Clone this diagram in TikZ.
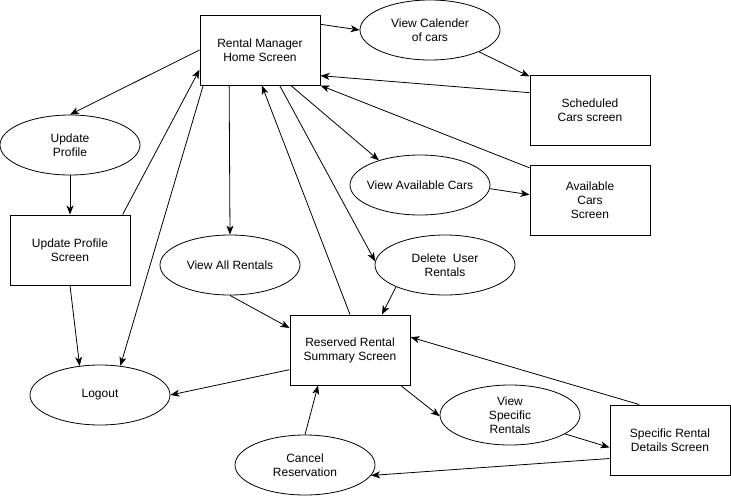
\documentclass[tikz,border=0pt]{standalone}
\usepackage{fontspec}
\setmainfont{Liberation Sans}
\usetikzlibrary{shapes.geometric, arrows.meta}

\begin{document}
\begin{tikzpicture}[x=1pt, y=-1pt,
  every node/.style={font=\fontsize{12}{14}\selectfont, align=center},
  screen/.style={draw, line width=1pt, minimum width=120pt, minimum height=70pt, inner sep=0pt},
  usecase/.style={draw, ellipse, line width=0.8pt, minimum width=140pt, minimum height=60pt, inner xsep=-8pt, inner ysep=0pt},
  link/.style={line width=0.8pt, -{Stealth[length=9pt, width=7pt, inset=2.5pt]}}]
\useasboundingbox (0,0) rectangle (731,496);
\node[screen] (home) at (260,50) {Rental Manager\\Home Screen};
\node[usecase] (cal) at (430,30) {View Calender\\of cars};
\node[screen] (sched) at (590,110) {Scheduled\\Cars screen};
\node[usecase] (vac) at (420,185) {View Available Cars};
\node[screen] (avail) at (590,200) {Available\\Cars\\Screen};
\node[usecase] (upd) at (70,145) {Update\\Profile};
\node[screen] (ups) at (70,250) {Update Profile\\Screen};
\node[usecase] (vall) at (230,265) {View All Rentals};
\node[usecase] (del) at (445,265) {Delete~ User\\Rentals};
\node[screen] (res) at (350,350) {Reserved Rental\\Summary Screen};
\node[usecase] (logout) at (100,395) {Logout};
\node[usecase] (vsr) at (510,415) {View\\Specific\\Rentals};
\node[screen] (spec) at (670,440) {Specific Rental\\Details Screen};
\node[usecase] (cancel) at (305,465) {Cancel\\Reservation};
\draw[link] (home.23) -- (cal.180);
\draw[link] (cal.-24) -- (sched.151);
\draw[link] (sched.164) -- (home.-23);
\draw[link] (avail.152) -- (home.south east);
\draw[link] (home.-49) -- (vac.149);
\draw[link] (vac.-3) -- (avail.175);
\draw[link] (home.west) -- (upd.north);
\draw[link] (upd.south) -- (ups.north);
\draw[link] (ups.34) -- (home.198);
\draw[link] (home.-148) -- (logout.55);
\draw[link] (ups.south) -- (logout.125);
\draw[link] (home.-131) -- (vall.north);
\draw[link] (res.north) -- (home.-87);
\draw[link] (home.-61) -- (del.177);
\draw[link] (del.-156) -- (res.48);
\draw[link] (vall.south) -- (res.160);
\draw[link] (res.198) -- (logout.east);
\draw[link] (cancel.north) -- (res.-132);
\draw[link] (res.-35) -- (vsr.181);
\draw[link] (vsr.-19) -- (spec.187);
\draw[link] (spec.131) -- (res.12);
\draw[link] (spec.197) -- (cancel.-9);
\end{tikzpicture}
\end{document}
